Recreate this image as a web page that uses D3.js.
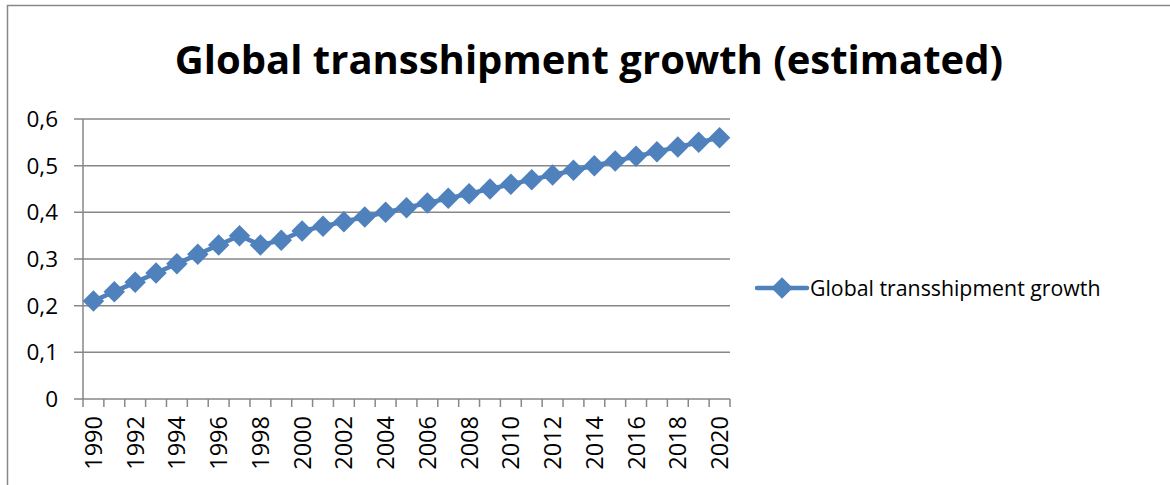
<!DOCTYPE html>
<html><head><meta charset="utf-8">
<script src="https://cdn.jsdelivr.net/npm/d3@7"></script>
<style>body{margin:0;background:#fff;} svg{display:block;}</style>
</head><body>
<svg id="c" width="1170" height="485"></svg>
<script>
const years = d3.range(1990, 2021).map(String);
const values = [0.21,0.23,0.25,0.27,0.29,0.31,0.33,0.35,0.33,0.34,0.36,0.37,0.38,0.39,0.40,0.41,0.42,0.43,0.44,0.45,0.46,0.47,0.48,0.49,0.50,0.51,0.52,0.53,0.54,0.55,0.56];
const yTicks = [0,0.1,0.2,0.3,0.4,0.5,0.6];
const seriesName = "Global transshipment growth";
const title = "Global transshipment growth (estimated)";

const svg = d3.select("#c");
const font = "'Open Sans', sans-serif";
const blue = "#4F81BD", grid = "#878787";
const L=83, R=730, T=119, B=399;

// outer border
svg.append("path").attr("d","M7.5,485 V5.5 H1170").attr("fill","none").attr("stroke","#888").attr("stroke-width",1.5);

svg.append("text").attr("x",589).attr("y",74).attr("text-anchor","middle")
  .attr("font-family",font).attr("font-weight","bold").attr("font-size",40).attr("fill","#000").text(title);

const x = d3.scaleBand().domain(years).range([L,R]);
const y = d3.scaleLinear().domain([0,0.6]).range([B,T]);

// gridlines + y labels
const gy = svg.append("g");
yTicks.forEach(t=>{
  gy.append("line").attr("x1",74).attr("x2",R).attr("y1",y(t)).attr("y2",y(t)).attr("stroke",grid).attr("stroke-width",1.5);
  gy.append("text").attr("x",58).attr("y",y(t)).attr("dy","0.36em").attr("text-anchor","end")
    .attr("font-family",font).attr("font-size",22.5).attr("fill","#000").text(String(t).replace(".",","));
});
// y axis
svg.append("line").attr("x1",L).attr("x2",L).attr("y1",T).attr("y2",B).attr("stroke",grid).attr("stroke-width",1.5);
// x ticks
const bounds = years.map(yv=>x(yv)).concat([R]);
bounds.forEach(b=>{
  svg.append("line").attr("x1",b).attr("x2",b).attr("y1",B).attr("y2",407).attr("stroke",grid).attr("stroke-width",1.5);
});
years.forEach((yv,i)=>{
  if(i%2) return;
  const cx = x(yv)+x.bandwidth()/2;
  svg.append("text").attr("transform",`translate(${cx},416) rotate(-90)`).attr("dy","0.36em").attr("text-anchor","end")
    .attr("font-family",font).attr("font-size",23.5).attr("fill","#000").text(yv);
});

const data = years.map((yv,i)=>({yr:yv,v:values[i]}));
const line = d3.line().x(d=>x(d.yr)+x.bandwidth()/2).y(d=>y(d.v));
svg.append("path").datum(data).attr("d",line).attr("fill","none").attr("stroke",blue).attr("stroke-width",4.5);
const sym = d3.symbol(d3.symbolSquare, 230);
svg.selectAll(".m").data(data).enter().append("path")
  .attr("transform",d=>`translate(${x(d.yr)+x.bandwidth()/2},${y(d.v)}) rotate(45)`)
  .attr("d",sym).attr("fill",blue);

// legend
const ly=288;
svg.append("line").attr("x1",757).attr("x2",807).attr("y1",ly).attr("y2",ly).attr("stroke",blue).attr("stroke-width",4.5).attr("stroke-linecap","round");
svg.append("path").attr("transform",`translate(782,${ly}) rotate(45)`).attr("d",sym).attr("fill",blue);
svg.append("text").attr("x",810).attr("y",ly).attr("dy","0.36em").attr("font-family",font).attr("font-size",21.3).attr("fill","#000").text(seriesName);
</script>
</body></html>
